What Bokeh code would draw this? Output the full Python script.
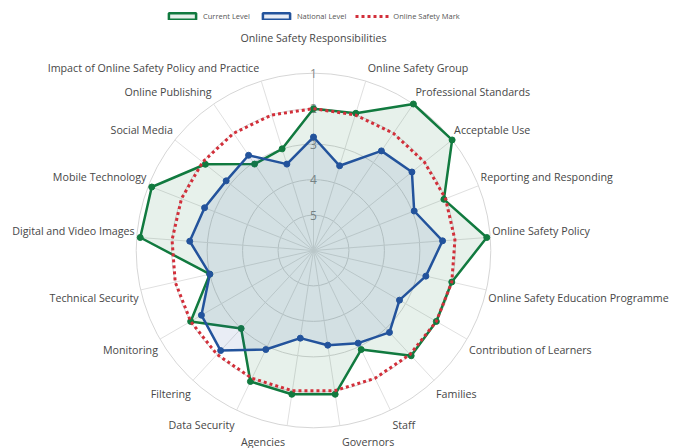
import numpy as np
from bokeh.plotting import figure
from bokeh.models import Range1d, Legend, LegendItem
from bokeh.embed import file_html
from bokeh.resources import INLINE
from bokeh.core.properties import value

categories = [
    "Online Safety Responsibilities", "Online Safety Group", "Professional Standards",
    "Acceptable Use", "Reporting and Responding", "Online Safety Policy",
    "Online Safety Education Programme", "Contribution of Learners", "Families",
    "Staff", "Governors", "Agencies", "Data Security", "Filtering", "Monitoring",
    "Technical Security", "Digital and Video Images", "Mobile Technology",
    "Social Media", "Online Publishing", "Impact of Online Safety Policy and Practice",
]
current_level = [2.0, 1.95, 1.0, 1.0, 2.05, 1.1, 2.0, 2.0, 1.95, 2.9, 1.9,
                 1.9, 1.9, 3.0, 2.0, 3.0, 1.1, 1.1, 2.1, 3.05, 3.0]
national_level = [2.8, 3.5, 2.6, 2.45, 2.95, 2.35, 2.75, 3.2, 2.85, 3.1, 3.3,
                  3.5, 2.9, 2.15, 2.35, 3.0, 2.5, 2.7, 2.85, 2.75, 3.45]
safety_mark = [2, 2, 2, 2, 2, 2, 2, 2, 2, 2, 2, 2, 2, 2, 2, 2, 2, 2, 2, 2, 2]
radial_ticks = [1, 2, 3, 4, 5]
radial_tick_labels = ["1", "2", "3", "4", "5"]

# layout constants
CENTER_VAL = 6.0      # value at the centre (reversed radial axis)
S = 35.46             # pixels per radial unit
R_OUT = (CENTER_VAL - 1) * S
GREEN = "#117a3f"
BLUE = "#23539c"
RED = "#d22f3a"
FONT = "Open Sans"

n = len(categories)
theta = np.arange(n) * 2 * np.pi / n   # clockwise from top


def to_xy(vals):
    r = (CENTER_VAL - np.asarray(vals, dtype=float)) * S
    x = r * np.sin(theta)
    y = r * np.cos(theta)
    return list(x) + [x[0]], list(y) + [y[0]]


p = figure(width=684, height=448, x_range=Range1d(-313, 371), y_range=Range1d(-198, 250),
           output_backend="svg", toolbar_location=None, min_border=0,
           x_axis_location=None, y_axis_location=None)
p.grid.visible = False
p.outline_line_color = None
p.background_fill_color = "white"

# grid: rings and spokes
ring_r = [(CENTER_VAL - t) * S for t in radial_ticks]
p.circle(x=[0] * len(ring_r), y=[0] * len(ring_r), radius=ring_r,
         fill_color=None, line_color="#d6d6d6", line_width=1)
p.segment(x0=[0] * n, y0=[0] * n, x1=list(R_OUT * np.sin(theta)), y1=list(R_OUT * np.cos(theta)),
          line_color="#e0e0e0", line_width=1)

# radial tick labels
p.text(x=[0] * len(radial_ticks), y=ring_r, text=radial_tick_labels,
       text_align="center", text_baseline="middle", text_color="#8a8a8a",
       text_font=value(FONT), text_font_size="12px")

# series
cx, cy = to_xy(current_level)
g_patch = p.patch(cx, cy, fill_color=GREEN, fill_alpha=0.1, line_color=GREEN, line_width=2.5)
p.scatter(cx[:-1], cy[:-1], size=6, color=GREEN)

nx, ny = to_xy(national_level)
b_patch = p.patch(nx, ny, fill_color=BLUE, fill_alpha=0.1, line_color=BLUE, line_width=2.5)
p.scatter(nx[:-1], ny[:-1], size=6, color=BLUE)

mx, my = to_xy(safety_mark)
m_line = p.line(mx, my, line_color=RED, line_width=3, line_dash="3 3")

# category labels
groups = {"left": ([], [], []), "right": ([], [], []), "center": ([], [], [])}
for i, name in enumerate(categories):
    s, c = np.sin(theta[i]), np.cos(theta[i])
    px, py = R_OUT * s, R_OUT * c
    if abs(s) < 0.01:
        key, lx = "center", px
        ly = py + 35
    elif s > 0:
        key, lx = "left", px + 2
    else:
        key, lx = "right", px - 2
    if abs(s) >= 0.01:
        if c >= 0:
            ly = py + 6 + 7 * c
        else:
            ly = py - 6 - 10 * abs(c)
    groups[key][0].append(lx)
    groups[key][1].append(ly)
    groups[key][2].append(name)

for align, (xs, ys, ts) in groups.items():
    if xs:
        p.text(x=xs, y=ys, text=ts, text_align=align, text_baseline="middle",
               text_color="#474747", text_font=value(FONT), text_font_size="10.7px")

legend = Legend(items=[LegendItem(label="Current Level", renderers=[g_patch]),
                       LegendItem(label="National Level", renderers=[b_patch]),
                       LegendItem(label="Online Safety Mark", renderers=[m_line])],
                orientation="horizontal", location=(164, 426),
                label_text_font=FONT, label_text_font_size="7.5px", label_text_color="#555555",
                glyph_width=34, glyph_height=8, label_height=10, label_standoff=4,
                spacing=9, padding=1, margin=0,
                background_fill_alpha=0, border_line_alpha=0)
p.add_layout(legend)

open("out.html", "w").write(file_html(p, INLINE))
